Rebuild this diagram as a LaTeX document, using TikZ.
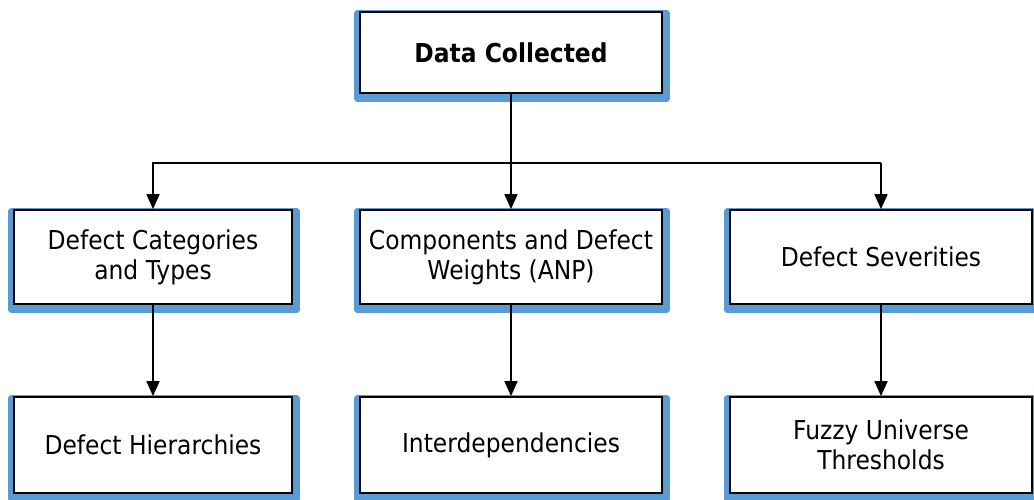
\documentclass[tikz,border=0pt]{standalone}
\usepackage{fontspec}
\setmainfont{DejaVu Sans}[FakeStretch=0.9]
\usetikzlibrary{arrows.meta, backgrounds}
\definecolor{shadowblue}{RGB}{91,155,213}

\begin{document}
\begin{tikzpicture}[
    x=1pt, y=-1pt,
    block/.style={draw, rectangle, line width=1.8pt, fill=white, minimum width=302pt, minimum height=94pt, align=center, inner sep=2pt, font=\fontsize{26}{30}\selectfont},
    flow/.style={line width=1.7pt, -{Triangle[length=15pt, width=13pt]}}
]
    \useasboundingbox (0,0) rectangle (1034,499);

    % ===============================
    % 1. BLOCKS
    % ===============================
    \node[block, minimum height=81pt] (data) at (511, 52.5) {\textbf{Data Collected}};

    \node[block, minimum width=278pt] (cat) at (153, 257) {Defect Categories\\and Types};
    \node[block] (comp) at (511, 257) {Components and Defect\\Weights (ANP)};
    \node[block] (sev) at (881, 257) {Defect Severities};

    \node[block, minimum width=278pt, minimum height=96pt] (hier) at (153, 445) {Defect Hierarchies};
    \node[block, minimum height=96pt] (inter) at (511, 445) {Interdependencies};
    \node[block, minimum height=96pt] (fuzzy) at (881, 445) {Fuzzy Universe\\Thresholds};

    % shadows behind the blocks
    \begin{scope}[on background layer]
        \foreach \n in {data, cat, comp, sev, hier, inter, fuzzy}
            \fill[shadowblue, rounded corners=3pt] ([xshift=-5pt, yshift=1pt]\n.north west) rectangle ([xshift=7pt, yshift=-8pt]\n.south east);
    \end{scope}

    % ===============================
    % 2. CONNECTIONS
    % ===============================
    \coordinate (busL) at (153, 163);
    \coordinate (busR) at (881, 163);

    \draw[flow] (data) -- (comp);
    \draw[flow] (busR) -- (busL) -- (cat);
    \draw[flow] (busR) -- (sev);

    \draw[flow] (cat) -- (hier);
    \draw[flow] (comp) -- (inter);
    \draw[flow] (sev) -- (fuzzy);

\end{tikzpicture}
\end{document}
